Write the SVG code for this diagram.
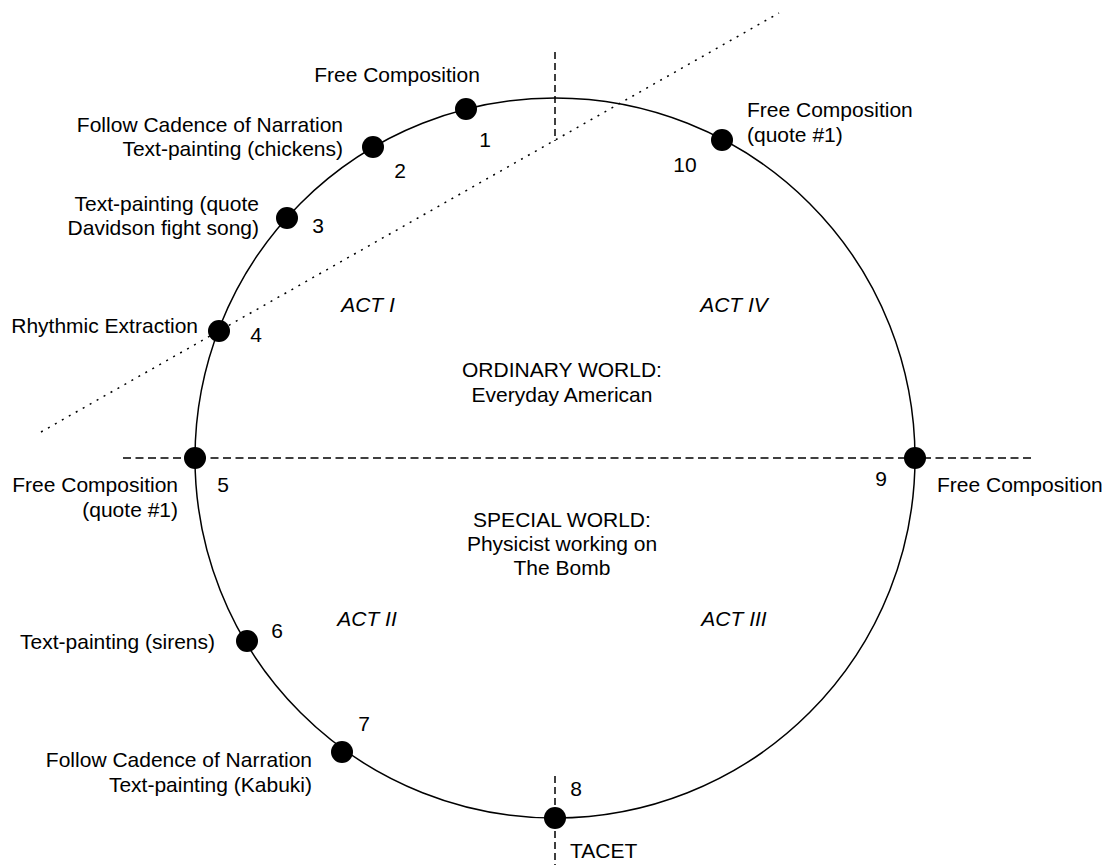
<svg xmlns="http://www.w3.org/2000/svg" width="1110" height="865" viewBox="0 0 1110 865">
  <style>
    text { font-family: "Liberation Sans", Arial, Helvetica, sans-serif; font-size: 21px; fill: #000; }
    .act { font-style: italic; text-anchor: middle; }
    .mid { text-anchor: middle; }
    .end { text-anchor: end; }
    .num { text-anchor: middle; }
    .dot { fill: #000; }
    .dash { stroke: #000; stroke-width: 1.5; fill: none; }
  </style>
  <rect width="1110" height="865" fill="#fff"/>

  <!-- guide lines -->
  <g id="connectors">
    <line class="dash" x1="123" y1="458" x2="1032" y2="458" stroke-dasharray="8 4.5"/>
    <line class="dash" x1="555" y1="52" x2="555" y2="141" stroke-dasharray="7 4"/>
    <line class="dash" x1="555" y1="776" x2="555" y2="865" stroke-dasharray="7 4"/>
    <line class="dash" x1="41" y1="432" x2="779" y2="13" stroke-dasharray="2 6" stroke-width="2"/>
    <circle id="cycle" cx="555" cy="458" r="360" fill="none" stroke="#000" stroke-width="1.5"/>
  </g>

  <!-- region labels -->
  <g id="act-1"><text class="act" x="368" y="312">ACT I</text></g>
  <g id="act-2"><text class="act" x="367" y="626">ACT II</text></g>
  <g id="act-3"><text class="act" x="734" y="626">ACT III</text></g>
  <g id="act-4"><text class="act" x="734" y="312">ACT IV</text></g>
  <g id="ordinary-world">
    <text class="mid" x="562" y="377">ORDINARY WORLD:</text>
    <text class="mid" x="562" y="402">Everyday American</text>
  </g>
  <g id="special-world">
    <text class="mid" x="562" y="527">SPECIAL WORLD:</text>
    <text class="mid" x="562" y="551">Physicist working on</text>
    <text class="mid" x="562" y="575">The Bomb</text>
  </g>

  <!-- stations around the cycle -->
  <g id="node-1">
    <circle class="dot" cx="466" cy="109" r="11"/>
    <text class="num" x="485" y="147">1</text>
    <text class="mid" x="397" y="82">Free Composition</text>
  </g>
  <g id="node-2">
    <circle class="dot" cx="373" cy="147" r="11"/>
    <text class="num" x="400" y="178">2</text>
    <text class="end" x="343" y="132">Follow Cadence of Narration</text>
    <text class="end" x="343" y="156">Text-painting (chickens)</text>
  </g>
  <g id="node-3">
    <circle class="dot" cx="287" cy="218" r="11"/>
    <text class="num" x="318" y="233">3</text>
    <text class="end" x="259" y="211">Text-painting (quote</text>
    <text class="end" x="259" y="235">Davidson fight song)</text>
  </g>
  <g id="node-4">
    <circle class="dot" cx="219" cy="331" r="11"/>
    <text class="num" x="256" y="342">4</text>
    <text class="end" x="198" y="333">Rhythmic Extraction</text>
  </g>
  <g id="node-5">
    <circle class="dot" cx="195" cy="458" r="11"/>
    <text class="num" x="223" y="492">5</text>
    <text class="end" x="178" y="492">Free Composition</text>
    <text class="end" x="178" y="517">(quote #1)</text>
  </g>
  <g id="node-6">
    <circle class="dot" cx="247" cy="641" r="11"/>
    <text class="num" x="277" y="638">6</text>
    <text class="end" x="215" y="649">Text-painting (sirens)</text>
  </g>
  <g id="node-7">
    <circle class="dot" cx="342" cy="752" r="11"/>
    <text class="num" x="364" y="731">7</text>
    <text class="end" x="312" y="767">Follow Cadence of Narration</text>
    <text class="end" x="312" y="792">Text-painting (Kabuki)</text>
  </g>
  <g id="node-8">
    <circle class="dot" cx="555" cy="818" r="11"/>
    <text class="num" x="576" y="796">8</text>
    <text x="570" y="858">TACET</text>
  </g>
  <g id="node-9">
    <circle class="dot" cx="915" cy="458" r="11"/>
    <text class="num" x="881" y="486">9</text>
    <text x="937" y="492">Free Composition</text>
  </g>
  <g id="node-10">
    <circle class="dot" cx="722" cy="140" r="11"/>
    <text class="num" x="685" y="172">10</text>
    <text x="747" y="117">Free Composition</text>
    <text x="747" y="142">(quote #1)</text>
  </g>
</svg>
